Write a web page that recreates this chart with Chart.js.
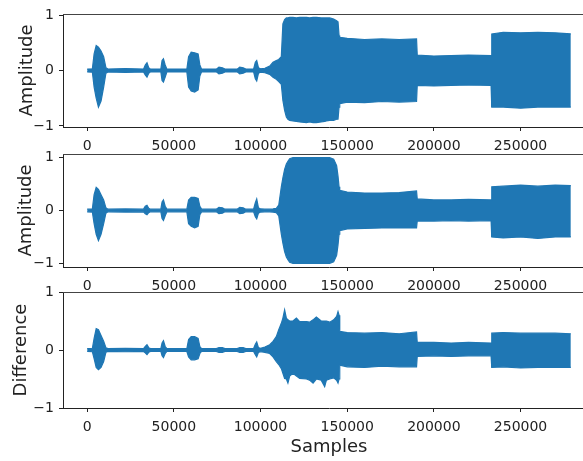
<!DOCTYPE html>
<html>
<head>
<meta charset="utf-8">
<script src="https://cdn.jsdelivr.net/npm/chart.js@4/dist/chart.umd.min.js"></script>
<style>
  html, body { margin:0; padding:0; background:#fff; overflow:hidden; }
  body { width:583px; height:461px; position:relative; }
  canvas { position:absolute; left:0; }
</style>
</head>
<body>
<canvas id="chart1" width="600" height="160" style="top:0px"></canvas>
<canvas id="chart2" width="600" height="160" style="top:140px"></canvas>
<canvas id="chart3" width="600" height="183" style="top:278px"></canvas>
<script>
const samples = [
  0, 3000, 4000, 5200, 6500, 8000, 9500, 10800, 12000,
  22000, 32500, 33500, 34500, 35500, 36500,
  42500, 43200, 44000, 45000, 46000,
  57500, 58500, 60000, 62000, 64000, 65000, 66000,
  74500, 76000, 78000, 79500, 86500, 88000, 90000, 91500,
  96000, 97000, 97800, 98800, 100000,
  102500, 105300, 107200, 109100, 110500, 112000,
  112900, 113900, 114900, 115800, 116800, 118700,
  120700, 122600, 126500, 128300, 130300, 132200, 135000, 137000, 138000, 139900,
  142200, 143900, 144700, 145300, 145700,
  150000, 160000, 170000, 180000, 190000,
  190400, 200000, 210000, 220000, 233000,
  233400, 240000, 250000, 260000, 270000, 279000
]

// top panel: original amplitude envelope
const amp1Top = [
  .025, .03, .30, .45, .42, .35, .25, .05, .025,
  .035, .025, .10, .14, .05, .025,
  .025, .18, .21, .10, .025,
  .025, .25, .33, .32, .30, .10, .025,
  .025, .06, .05, .025, .025, .06, .05, .025,
  .025, .15, .18, .05, .03,
  .04, .08, .15, .18, .20, .25,
  .84, .92, .95, .95, .96, .96,
  .95, .96, .96, .95, .96, .96, .95, .95, .95, .95,
  .93, .90, .88, .63, .60,
  .58, .56, .57, .56, .57,
  .28, .26, .27, .28, .27,
  .66, .69, .68, .69, .68, .66
]
const amp1Bot = [
  -.025, -.03, -.30, -.50, -.66, -.55, -.30, -.05, -.025,
  -.035, -.025, -.08, -.12, -.05, -.025,
  -.025, -.18, -.21, -.12, -.025,
  -.025, -.30, -.37, -.39, -.35, -.10, -.025,
  -.025, -.06, -.05, -.025, -.025, -.06, -.05, -.025,
  -.025, -.15, -.19, -.05, -.03,
  -.04, -.07, -.12, -.16, -.20, -.25,
  -.54, -.72, -.84, -.88, -.90, -.91,
  -.92, -.93, -.94, -.93, -.94, -.94, -.93, -.92, -.91, -.90,
  -.90, -.88, -.88, -.66, -.60,
  -.57, -.58, -.56, -.57, -.56,
  -.27, -.28, -.27, -.26, -.27,
  -.66, -.66, -.68, -.66, -.66, -.66
]

// middle panel: processed amplitude envelope
const amp2Top = [
  .025, .03, .30, .44, .40, .30, .20, .05, .025,
  .03, .025, .08, .10, .04, .025,
  .025, .16, .20, .08, .025,
  .025, .20, .25, .25, .23, .08, .025,
  .025, .06, .05, .025, .025, .06, .05, .025,
  .025, .15, .22, .05, .03,
  .025, .025, .03, .04, .10, .45,
  .62, .78, .88, .93, .98, 1.0,
  1.0, 1.0, 1.0, 1.0, 1.0, 1.0, 1.0, 1.0, 1.0, 1.0,
  .97, .85, .65, .45, .38,
  .35, .33, .33, .34, .37,
  .22, .20, .20, .21, .20,
  .45, .46, .48, .46, .48, .47
]
const amp2Bot = [
  -.025, -.03, -.25, -.45, -.57, -.45, -.25, -.05, -.025,
  -.03, -.025, -.06, -.08, -.04, -.025,
  -.025, -.15, -.19, -.10, -.025,
  -.025, -.25, -.30, -.33, -.30, -.08, -.025,
  -.025, -.06, -.05, -.025, -.025, -.06, -.05, -.025,
  -.025, -.12, -.16, -.05, -.03,
  -.025, -.025, -.03, -.04, -.10, -.45,
  -.62, -.78, -.88, -.93, -.98, -1.0,
  -1.0, -1.0, -1.0, -1.0, -1.0, -1.0, -1.0, -1.0, -1.0, -1.0,
  -.97, -.85, -.65, -.45, -.38,
  -.35, -.34, -.33, -.33, -.33,
  -.20, -.20, -.19, -.20, -.19,
  -.50, -.52, -.50, -.53, -.50, -.50
]

// bottom panel: difference envelope
const diffTop = [
  .025, .03, .20, .37, .35, .25, .15, .04, .025,
  .03, .025, .06, .09, .04, .025,
  .025, .12, .16, .06, .025,
  .025, .18, .23, .23, .20, .06, .025,
  .025, .04, .04, .025, .025, .04, .04, .025,
  .025, .10, .14, .04, .03,
  .05, .09, .15, .23, .35, .46,
  .55, .69, .55, .52, .50, .50,
  .55, .49, .49, .48, .52, .57, .50, .50, .50, .48,
  .52, .58, .66, .60, .32,
  .30, .29, .30, .28, .31,
  .13, .13, .12, .13, .12,
  .29, .30, .29, .29, .29, .28
]
const diffBot = [
  -.025, -.03, -.15, -.30, -.34, -.30, -.20, -.04, -.025,
  -.03, -.025, -.05, -.08, -.04, -.025,
  -.025, -.10, -.13, -.06, -.025,
  -.025, -.12, -.17, -.17, -.15, -.06, -.025,
  -.025, -.04, -.04, -.025, -.025, -.04, -.04, -.025,
  -.025, -.08, -.12, -.04, -.03,
  -.04, -.06, -.12, -.20, -.25, -.32,
  -.40, -.49, -.50, -.57, -.45, -.40,
  -.45, -.49, -.50, -.52, -.57, -.50, -.52, -.63, -.52, -.50,
  -.48, -.52, -.57, -.50, -.26,
  -.29, -.30, -.28, -.29, -.29,
  -.11, -.10, -.11, -.10, -.10,
  -.30, -.29, -.31, -.30, -.30, -.30
]

const xTicks = [0, 50000, 100000, 150000, 200000, 250000]
const yTicks = [-1, 0, 1]
const yTickLabels = ['\u22121', '0', '1']

const blue = '#1f77b4'
const ink = '#222'
const family = "'DejaVu Sans', sans-serif"

// top spine (Chart.js only draws left/bottom borders)
const frame = {
  id: 'frame',
  afterDraw(chart){
    const a = chart.chartArea
    const c = chart.ctx
    c.save()
    c.strokeStyle = '#444'
    c.lineWidth = 1
    c.beginPath()
    c.moveTo(a.left, a.top + 0.5)
    c.lineTo(a.right, a.top + 0.5)
    c.stroke()
    c.restore()
  }
}

function points(top){
  return samples.map((s, i) => ({ x: s, y: top[i] }))
}

function panel(id, top, bot, yLim, yTitle, titlePad, xTitle, xHeight){

  new Chart(document.getElementById(id), {

    type: 'line',

    data: {
      datasets: [
        {
          data: points(top),
          borderColor: blue,
          backgroundColor: blue,
          borderWidth: 1.2,
          pointRadius: 0,
          tension: 0,
          fill: '+1'
        },
        {
          data: points(bot),
          borderColor: blue,
          backgroundColor: blue,
          borderWidth: 1.2,
          pointRadius: 0,
          tension: 0,
          fill: false
        }
      ]
    },

    options: {
      responsive: false,
      animation: false,
      events: [],
      layout: { padding: { top: 14, right: 5, left: 0, bottom: 0 } },
      plugins: {
        legend: { display: false },
        tooltip: { enabled: false }
      },
      scales: {
        x: {
          type: 'linear',
          min: -13950,
          max: 292950,
          afterBuildTicks: s => { s.ticks = xTicks.map(v => ({ value: v })) },
          afterFit: s => { s.height = xHeight },
          ticks: {
            autoSkip: false,
            maxRotation: 0,
            padding: 7,
            color: ink,
            font: { family: family, size: 14 },
            callback: v => String(v)
          },
          grid: { drawOnChartArea: false, drawTicks: true, tickLength: 4, color: ink },
          border: { color: ink, width: 1 },
          title: {
            display: !!xTitle,
            text: xTitle || '',
            color: ink,
            font: { family: family, size: 18 },
            padding: { top: 0, bottom: 3 }
          }
        },
        y: {
          min: -yLim,
          max: yLim,
          afterBuildTicks: s => { s.ticks = yTicks.map(v => ({ value: v })) },
          afterFit: s => { s.width = 63 },
          ticks: {
            padding: 5,
            color: ink,
            font: { family: family, size: 14 },
            callback: v => yTickLabels[yTicks.indexOf(v)]
          },
          grid: { drawOnChartArea: false, drawTicks: true, tickLength: 4, color: ink },
          border: { color: ink, width: 1 },
          title: {
            display: true,
            text: yTitle,
            color: ink,
            font: { family: family, size: 18 },
            padding: { top: titlePad, bottom: 0 }
          }
        }
      }
    },

    plugins: [frame]
  })
}

panel('chart1', amp1Top, amp1Bot, 1.02, 'Amplitude', 17, null, 33)
panel('chart2', amp2Top, amp2Bot, 1.07, 'Amplitude', 16, null, 33)
panel('chart3', diffTop, diffBot, 1.0, 'Difference', 11, 'Samples', 53)
</script>
</body>
</html>
